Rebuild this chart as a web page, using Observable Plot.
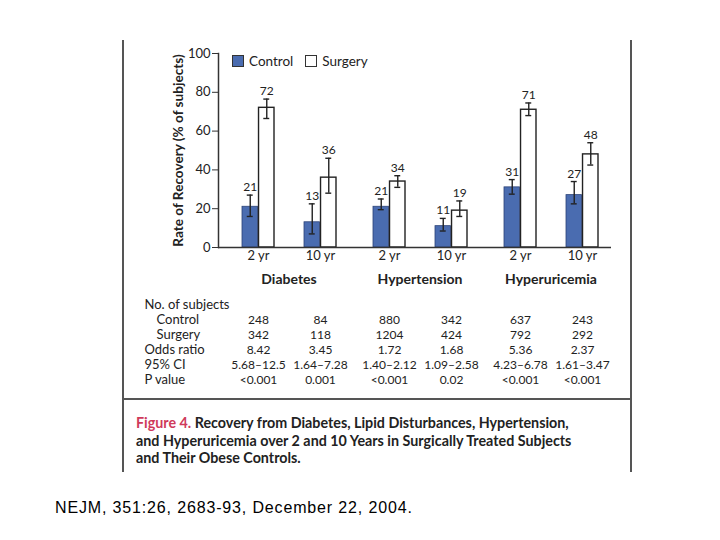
<!DOCTYPE html>
<html>
<head>
<meta charset="utf-8">
<script src="https://cdn.jsdelivr.net/npm/d3@7"></script>
<script src="https://cdn.jsdelivr.net/npm/@observablehq/plot@0.6"></script>
<style>
  html, body { margin: 0; padding: 0; background: #fff; }
  #page { position: relative; width: 720px; height: 540px; overflow: hidden; background: #fff; font-family: Lato, "Noto Sans", sans-serif; color: #222; }
  .vline { position: absolute; width: 2px; background: #555; }
  .hline { position: absolute; height: 2px; background: #555; }
  #legend { position: absolute; left: 232px; top: 53px; font-size: 13.5px; display: flex; align-items: center; }
  #legend .sw { display: inline-block; width: 10px; height: 10px; border: 1px solid #333; margin-right: 5px; }
  #legend .item { display: inline-flex; align-items: center; margin-right: 12px; }
  #caption { position: absolute; left: 136px; top: 414px; width: 490px; font-size: 14.3px; font-weight: bold; line-height: 17.5px; color: #222; white-space: nowrap; }
  #caption .fig { color: #cf3a5b; }
  #footer { position: absolute; left: 55px; top: 499px; font-family: "Liberation Sans", Arial, sans-serif; font-size: 16px; letter-spacing: 0.85px; color: #000; white-space: nowrap; }
  #main { position: absolute; left: 0; top: 40px; }
  #table { position: absolute; left: 0; top: 290px; width: 720px; height: 100px; }
  #table svg { display: block; }
  g[aria-label="y-axis label"] text, g[aria-label="y-axis label"] { font-weight: bold; font-size: 13.6px; }
  g[aria-label="fx-axis tick label"] { font-weight: bold; font-size: 14px; }
</style>
</head>
<body>
<div id="page">
  <div class="vline" style="left:122px; top:40px; height:432px;"></div>
  <div class="vline" style="left:630px; top:40px; height:432px;"></div>
  <div class="hline" style="left:122px; top:398px; width:510px;"></div>
  <div id="main"></div>
  <div id="legend"></div>
  <div id="table"></div>
  <div id="caption"><span class="fig">Figure 4.</span> Recovery from Diabetes, Lipid Disturbances, Hypertension,<br>and Hyperuricemia over 2 and 10 Years in Surgically Treated Subjects<br>and Their Obese Controls.</div>
  <div id="footer">NEJM, 351:26, 2683-93, December 22, 2004.</div>
</div>
<script>
// ---- data ----
const diseases = ["Diabetes", "Hypertension", "Hyperuricemia"];
const years = ["2 yr", "10 yr"];
const groups = ["Control", "Surgery"];
const yTicks = [0, 20, 40, 60, 80, 100];
const yLabel = "Rate of Recovery (% of subjects)";

const controlRate = [21, 13, 21, 11, 31, 27];
const surgeryRate = [72, 36, 34, 19, 71, 48];
const controlLow  = [16, 7, 19.5, 8.5, 27.5, 22.5];
const controlHigh = [27, 22.5, 25, 15, 35, 34];
const surgeryLow  = [66.5, 28, 31, 16, 68, 42.5];
const surgeryHigh = [76.5, 46, 37, 24, 74.5, 54];

const tableRows = ["No. of subjects", "Control", "Surgery", "Odds ratio", "95% CI", "P value"];
const nControl = ["248", "84", "880", "342", "637", "243"];
const nSurgery = ["342", "118", "1204", "424", "792", "292"];
const oddsRatio = ["8.42", "3.45", "1.72", "1.68", "5.36", "2.37"];
const ci95 = ["5.68\u201312.5", "1.64\u20137.28", "1.40\u20132.12", "1.09\u20132.58", "4.23\u20136.78", "1.61\u20133.47"];
const pValue = ["<0.001", "0.001", "<0.001", "0.02", "<0.001", "<0.001"];

// ---- tables built from the arrays ----
const cols = diseases.flatMap((d, i) => years.map((y, j) => ({disease: d, year: y, k: i * years.length + j})));
const ctrl = cols.map(c => ({...c, v: controlRate[c.k], lo: controlLow[c.k], hi: controlHigh[c.k]}));
const surg = cols.map(c => ({...c, v: surgeryRate[c.k], lo: surgeryLow[c.k], hi: surgeryHigh[c.k]}));
const cells = cols.flatMap(c => [
  {...c, row: "Control", t: nControl[c.k]},
  {...c, row: "Surgery", t: nSurgery[c.k]},
  {...c, row: "Odds ratio", t: oddsRatio[c.k]},
  {...c, row: "95% CI", t: ci95[c.k]},
  {...c, row: "P value", t: pValue[c.k]}
]);
const indented = ["Control", "Surgery"];

// ---- shared layout ----
const BLUE = "#4a6cb0";
const BW = 33.05;           // band width of a year pair
const half = BW / 2, q = BW / 4, cap = 3.5;
const fxOpt = {type: "band", domain: diseases, padding: 0, axis: null};
const xOpt = {type: "band", domain: years, paddingInner: 0.476, paddingOuter: 0.283, align: 0.645, axis: null};
const common = {width: 720, marginLeft: 217, marginRight: 108};

const main = Plot.plot({
  ...common,
  height: 250, marginTop: 13, marginBottom: 43,
  style: {fontFamily: "Lato, 'Noto Sans', sans-serif", fontSize: "13px", color: "#222", background: "transparent", overflow: "visible"},
  fx: fxOpt, x: xOpt,
  y: {domain: [0, 100], axis: null},
  marks: [
    Plot.barY(ctrl, {fx: "disease", x: "year", y: "v", insetRight: half, fill: BLUE, stroke: "#2c4378", strokeWidth: 0.8}),
    Plot.barY(surg, {fx: "disease", x: "year", y: "v", insetLeft: half, fill: "#fff", stroke: "#222", strokeWidth: 1.4}),
    Plot.ruleX(ctrl, {fx: "disease", x: "year", y1: "lo", y2: "hi", dx: -q, stroke: "#222", strokeWidth: 1.4}),
    Plot.ruleX(surg, {fx: "disease", x: "year", y1: "lo", y2: "hi", dx: q, stroke: "#222", strokeWidth: 1.4}),
    Plot.tickY(ctrl, {fx: "disease", x: "year", y: "lo", insetLeft: q - cap, insetRight: BW - q - cap, stroke: "#222", strokeWidth: 1.4}),
    Plot.tickY(ctrl, {fx: "disease", x: "year", y: "hi", insetLeft: q - cap, insetRight: BW - q - cap, stroke: "#222", strokeWidth: 1.4}),
    Plot.tickY(surg, {fx: "disease", x: "year", y: "lo", insetLeft: BW - q - cap, insetRight: q - cap, stroke: "#222", strokeWidth: 1.4}),
    Plot.tickY(surg, {fx: "disease", x: "year", y: "hi", insetLeft: BW - q - cap, insetRight: q - cap, stroke: "#222", strokeWidth: 1.4}),
    Plot.text(ctrl, {fx: "disease", x: "year", y: "hi", text: "v", dx: -q, dy: -4, lineAnchor: "bottom", fontSize: 12}),
    Plot.text(surg, {fx: "disease", x: "year", y: "hi", text: "v", dx: q, dy: -4, lineAnchor: "bottom", fontSize: 12}),
    Plot.ruleY([0], {stroke: "#333", strokeWidth: 1.5}),
    Plot.frame({anchor: "left", facetAnchor: "left", stroke: "#333", strokeWidth: 1.5}),
    Plot.axisY({ticks: yTicks, tickSize: 6, tickPadding: 2, stroke: "#333", label: yLabel, labelAnchor: "center", labelOffset: 45, labelArrow: "none"}),
    Plot.axisX({tickSize: 0, tickPadding: 3, fontSize: 13, label: null}),
    Plot.axisFx({anchor: "bottom", tickSize: 0, tickPadding: 27, dx: 5, label: null})
  ]
});
document.getElementById("main").appendChild(main);

const table = Plot.plot({
  ...common,
  height: 100, marginTop: 5, marginBottom: 1,
  style: {fontFamily: "Lato, 'Noto Sans', sans-serif", fontSize: "12px", color: "#222", background: "transparent", overflow: "visible"},
  fx: fxOpt, x: xOpt,
  y: {type: "band", domain: tableRows, padding: 0, axis: null},
  marks: [
    Plot.text(cells, {fx: "disease", x: "year", y: "row", text: "t", fontSize: 12}),
    Plot.text(tableRows.filter(r => !indented.includes(r)), {fx: () => diseases[0], y: d => d, text: d => d, frameAnchor: "left", textAnchor: "start", dx: -74, fontSize: 13}),
    Plot.text(indented, {fx: () => diseases[0], y: d => d, text: d => d, frameAnchor: "left", textAnchor: "start", dx: -62, fontSize: 13})
  ]
});
document.getElementById("table").appendChild(table);

// legend
const legend = document.getElementById("legend");
groups.forEach((g, i) => {
  const item = document.createElement("span");
  item.className = "item";
  const sw = document.createElement("span");
  sw.className = "sw";
  sw.style.background = i === 0 ? BLUE : "#fff";
  item.appendChild(sw);
  item.appendChild(document.createTextNode(g));
  legend.appendChild(item);
});
</script>
</body>
</html>
